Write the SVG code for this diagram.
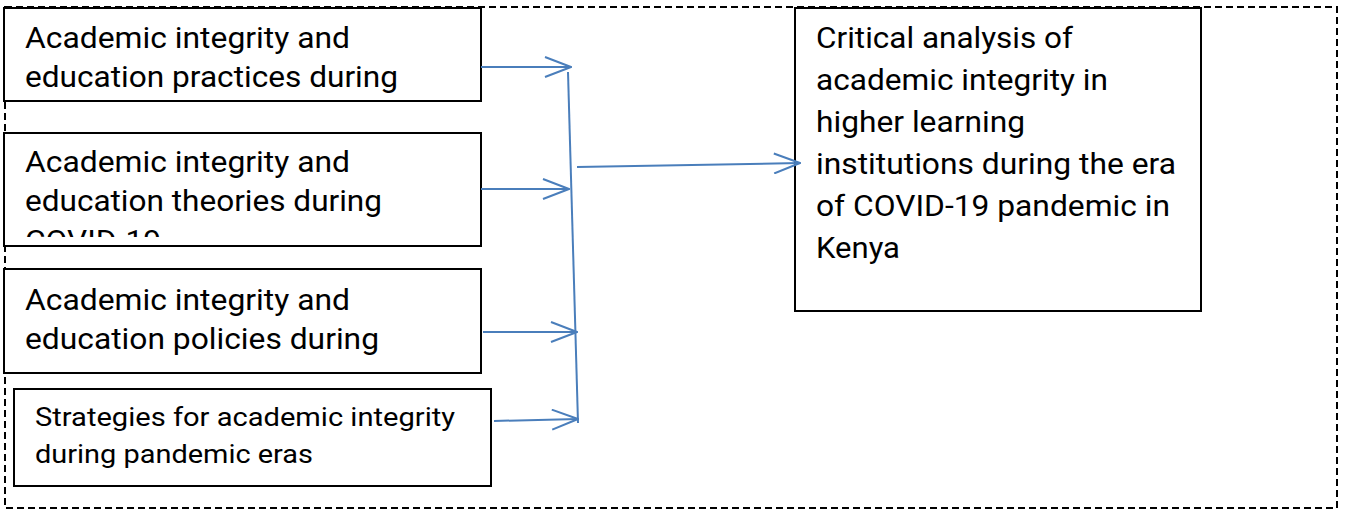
<svg xmlns="http://www.w3.org/2000/svg" width="1345" height="510" viewBox="0 0 1345 510">
  <style>
    .box { fill: #ffffff; stroke: #000000; stroke-width: 2; }
    .frame { fill: none; stroke: #000000; stroke-width: 2; stroke-dasharray: 7 4; }
    .lbl { font-family: Roboto, "Liberation Sans", sans-serif; font-size: 29.5px; fill: #000000; }
    .lbl-sm { font-family: Roboto, "Liberation Sans", sans-serif; font-size: 26px; fill: #000000; }
    .conn { fill: none; stroke: #4a7ebb; stroke-width: 2; }
  </style>
  <defs>
    <marker id="open-arrow" viewBox="0 0 28 22" refX="27" refY="11" markerWidth="28" markerHeight="22" markerUnits="userSpaceOnUse" orient="auto">
      <path d="M1,1 L27,11 L1,21" fill="none" stroke="#4a7ebb" stroke-width="2"/>
    </marker>
    <clipPath id="clip-theories">
      <rect x="4" y="133" width="477" height="104"/>
    </clipPath>
  </defs>

  <rect width="1345" height="510" fill="#ffffff"/>

  <!-- dashed enclosing frame -->
  <rect class="frame" x="5" y="7" width="1332" height="501"/>

  <!-- input boxes -->
  <g id="practices">
    <rect class="box" x="4" y="8" width="477" height="93"/>
    <text class="lbl" x="25" y="48" textLength="325" lengthAdjust="spacingAndGlyphs">Academic integrity and</text>
    <text class="lbl" x="25" y="87" textLength="373" lengthAdjust="spacingAndGlyphs">education practices during</text>
  </g>

  <g id="theories">
    <rect class="box" x="4" y="133" width="477" height="113"/>
    <g clip-path="url(#clip-theories)">
      <text class="lbl" x="25" y="172" textLength="325" lengthAdjust="spacingAndGlyphs">Academic integrity and</text>
      <text class="lbl" x="25" y="211" textLength="357" lengthAdjust="spacingAndGlyphs">education theories during</text>
      <text class="lbl" x="25" y="251" textLength="136" lengthAdjust="spacingAndGlyphs">COVID-19</text>
    </g>
  </g>

  <g id="policies">
    <rect class="box" x="4" y="269" width="477" height="104"/>
    <text class="lbl" x="25" y="310" textLength="325" lengthAdjust="spacingAndGlyphs">Academic integrity and</text>
    <text class="lbl" x="25" y="349" textLength="354" lengthAdjust="spacingAndGlyphs">education policies during</text>
  </g>

  <g id="strategies">
    <rect class="box" x="14" y="389" width="477" height="97"/>
    <text class="lbl-sm" x="35" y="426" textLength="420" lengthAdjust="spacingAndGlyphs">Strategies for academic integrity</text>
    <text class="lbl-sm" x="35" y="463" textLength="278" lengthAdjust="spacingAndGlyphs">during pandemic eras</text>
  </g>

  <!-- outcome box -->
  <g id="outcome">
    <rect class="box" x="795" y="8" width="406" height="303"/>
    <text class="lbl" x="816" y="48" textLength="257" lengthAdjust="spacingAndGlyphs">Critical analysis of</text>
    <text class="lbl" x="816" y="90" textLength="292" lengthAdjust="spacingAndGlyphs">academic integrity in</text>
    <text class="lbl" x="816" y="132" textLength="209" lengthAdjust="spacingAndGlyphs">higher learning</text>
    <text class="lbl" x="816" y="174" textLength="360" lengthAdjust="spacingAndGlyphs">institutions during the era</text>
    <text class="lbl" x="816" y="216" textLength="354" lengthAdjust="spacingAndGlyphs">of COVID-19 pandemic in</text>
    <text class="lbl" x="816" y="258" textLength="84" lengthAdjust="spacingAndGlyphs">Kenya</text>
  </g>

  <!-- connectors -->
  <g id="connectors">
    <line class="conn" x1="481" y1="67" x2="571" y2="67" marker-end="url(#open-arrow)"/>
    <line class="conn" x1="481" y1="189" x2="569" y2="189" marker-end="url(#open-arrow)"/>
    <line class="conn" x1="483" y1="332" x2="577" y2="332" marker-end="url(#open-arrow)"/>
    <line class="conn" x1="494" y1="421" x2="578" y2="419" marker-end="url(#open-arrow)"/>
    <line class="conn" x1="568" y1="72" x2="578" y2="423"/>
    <line class="conn" x1="577" y1="167" x2="800" y2="163" marker-end="url(#open-arrow)"/>
  </g>
</svg>
